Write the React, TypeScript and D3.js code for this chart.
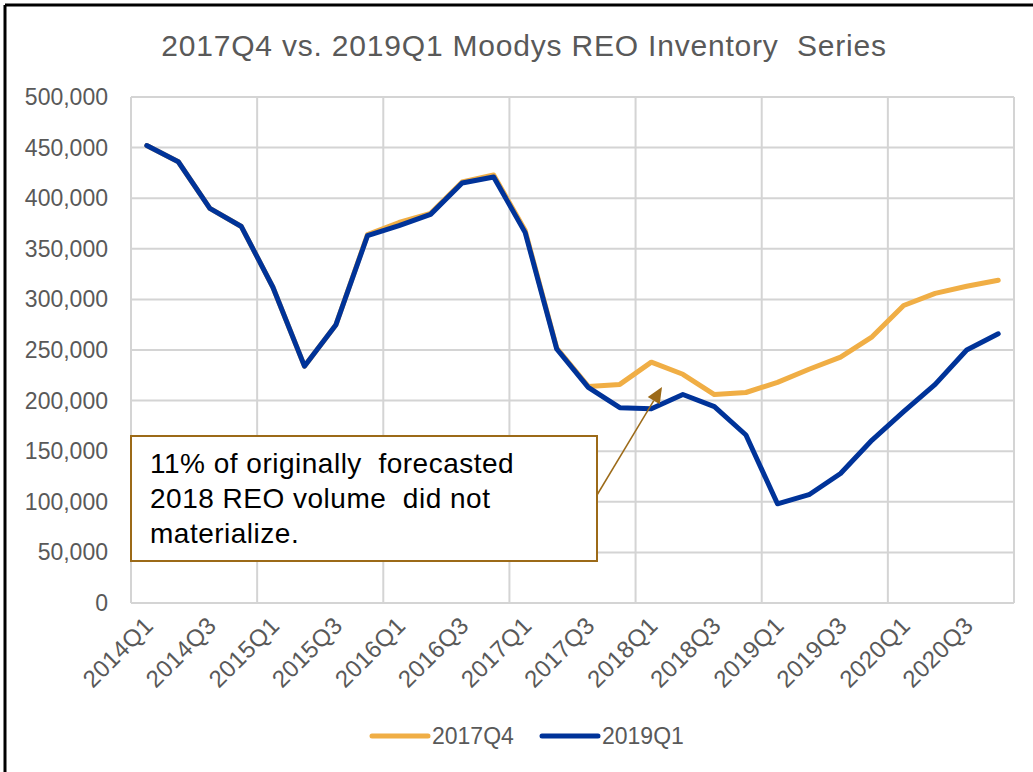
import React from 'react';
import * as d3 from 'd3';

// quarters on the category axis
const quarters = [
  '2014Q1', '2014Q2', '2014Q3', '2014Q4',
  '2015Q1', '2015Q2', '2015Q3', '2015Q4',
  '2016Q1', '2016Q2', '2016Q3', '2016Q4',
  '2017Q1', '2017Q2', '2017Q3', '2017Q4',
  '2018Q1', '2018Q2', '2018Q3', '2018Q4',
  '2019Q1', '2019Q2', '2019Q3', '2019Q4',
  '2020Q1', '2020Q2', '2020Q3', '2020Q4'
];

// REO inventory, units
const series2017Q4 = [
  452000, 436000, 390000, 372000, 312000, 234000, 275000, 364000,
  376000, 385000, 416000, 423000, 368000, 252000, 214000, 216000,
  238000, 226000, 206000, 208000, 218000, 231000, 243000, 263000,
  294000, 306000, 313000, 319000
];
const series2019Q1 = [
  452000, 436000, 390000, 372000, 312000, 234000, 275000, 363000,
  373000, 384000, 415000, 421000, 366000, 251000, 213000, 193000,
  192000, 206000, 194000, 166000, 98000, 107000, 128000, 161000,
  189000, 216000, 250000, 266000
];

const yTicks = [0, 50000, 100000, 150000, 200000, 250000, 300000, 350000, 400000, 450000, 500000];
const legendNames = ['2017Q4', '2019Q1'];
const noteLines = ['11% of originally  forecasted', '2018 REO volume  did not', 'materialize.'];
const title = '2017Q4 vs. 2019Q1 Moodys REO Inventory  Series';

const W = 1033;
const H = 772;
const FONT = '"Liberation Sans", Arial, sans-serif';
const GREY = '#595959';
const GRID = '#d4d4d4';
const ORANGE = '#f0ae45';
const BLUE = '#003399';
const BROWN = '#9c6a18';

export default function App() {
  const left = 131, right = 1014, top = 97, bottom = 603;

  const x = d3.scaleBand<string>().domain(quarters).range([left, right]).padding(0);
  const y = d3.scaleLinear().domain([0, 500000]).range([bottom, top]);
  const cx = (q: string) => (x(q) as number) + x.bandwidth() / 2;
  const fmt = d3.format(',');

  const line = d3.line<number>()
    .x((_, i) => cx(quarters[i]))
    .y(d => y(d));

  const vGrid = quarters.filter((_, i) => i % 4 === 0).map(q => x(q) as number).concat([right]);
  const xLabels = quarters.filter((_, i) => i % 2 === 0);

  const series = [
    { name: legendNames[0], values: series2017Q4, color: ORANGE },
    { name: legendNames[1], values: series2019Q1, color: BLUE }
  ];

  // annotation box and arrow
  const box = { x: left, y: 436, w: 466, h: 125 };
  const arrowFrom: [number, number] = [box.x + box.w, 495];
  const arrowTo: [number, number] = [662, 387];
  const ang = Math.atan2(arrowTo[1] - arrowFrom[1], arrowTo[0] - arrowFrom[0]);
  const headLen = 16, headW = 7;
  const bx = arrowTo[0] - headLen * Math.cos(ang), by = arrowTo[1] - headLen * Math.sin(ang);
  const head = [
    [arrowTo[0], arrowTo[1]],
    [bx + headW * Math.sin(ang), by - headW * Math.cos(ang)],
    [bx - headW * Math.sin(ang), by + headW * Math.cos(ang)]
  ].map(p => p.join(',')).join(' ');

  return (
    <svg width={W} height={H} style={{ position: 'absolute', left: 0, top: 0, background: '#fff' }}
      fontFamily={FONT}>
      <rect x={0} y={0} width={W} height={H} fill="#fff" />
      {/* outer frame, only top and left visible */}
      <line x1={5} y1={5} x2={W} y2={5} stroke="#000" strokeWidth={3} />
      <line x1={5} y1={5} x2={5} y2={H} stroke="#000" strokeWidth={3} />

      <text x={524} y={56} textAnchor="middle" fontSize={30} letterSpacing={0.8} fill={GREY}
        style={{ whiteSpace: 'pre' }}>
        {title}
      </text>

      {/* grid */}
      {yTicks.map(t => (
        <line key={'h' + t} x1={left} x2={right} y1={y(t)} y2={y(t)} stroke={GRID} strokeWidth={2} />
      ))}
      {vGrid.map(v => (
        <line key={'v' + v} x1={v} x2={v} y1={top} y2={bottom} stroke={GRID} strokeWidth={2} />
      ))}

      {/* y axis labels */}
      {yTicks.map(t => (
        <text key={'yl' + t} x={108} y={y(t) + 8} textAnchor="end" fontSize={23} fill={GREY}>
          {fmt(t)}
        </text>
      ))}

      {/* x axis labels */}
      {xLabels.map(q => (
        <text key={'xl' + q} textAnchor="end" fontSize={24} letterSpacing={0.4} fill={GREY}
          transform={`translate(${cx(q) + 8},${bottom + 24}) rotate(-45)`}>
          {q}
        </text>
      ))}

      {/* series */}
      {series.map(s => (
        <path key={s.name} d={line(s.values) as string} fill="none" stroke={s.color}
          strokeWidth={5} strokeLinejoin="round" strokeLinecap="round" />
      ))}

      {/* annotation */}
      <line x1={arrowFrom[0]} y1={arrowFrom[1]} x2={bx} y2={by} stroke={BROWN} strokeWidth={1.5} />
      <polygon points={head} fill={BROWN} />
      <rect x={box.x} y={box.y} width={box.w} height={box.h} fill="#fff" stroke={BROWN} strokeWidth={2} />
      {noteLines.map((t, i) => (
        <text key={'n' + i} x={150} y={473 + i * 35} fontSize={28} letterSpacing={0.5} fill="#000"
          style={{ whiteSpace: 'pre' }}>
          {t}
        </text>
      ))}

      {/* legend */}
      {series.map((s, i) => {
        const lx = i === 0 ? 372 : 542;
        return (
          <g key={'lg' + s.name}>
            <line x1={lx} x2={lx + 56} y1={736} y2={736} stroke={s.color} strokeWidth={5} strokeLinecap="round" />
            <text x={lx + 60} y={744} fontSize={23} fill={GREY}>{s.name}</text>
          </g>
        );
      })}
    </svg>
  );
}
